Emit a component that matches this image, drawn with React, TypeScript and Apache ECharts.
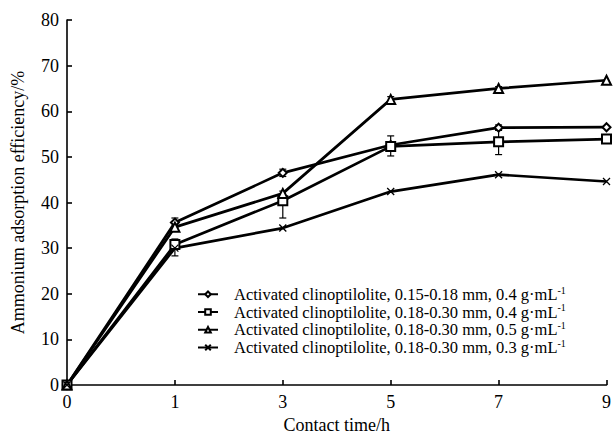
import React, { useEffect, useRef } from "react";
import * as echarts from "echarts";

const categories = ["0", "1", "3", "5", "7", "9"];
const seriesNames = [
  "Activated clinoptilolite, 0.15-0.18 mm, 0.4 g·mL",
  "Activated clinoptilolite, 0.18-0.30 mm, 0.4 g·mL",
  "Activated clinoptilolite, 0.18-0.30 mm, 0.5 g·mL",
  "Activated clinoptilolite, 0.18-0.30 mm, 0.3 g·mL",
];
const diamondValues = [0, 35.6, 46.5, 52.6, 56.4, 56.5];
const squareValues = [0, 30.8, 40.4, 52.3, 53.3, 53.9];
const triangleValues = [0, 34.6, 42.0, 62.6, 65.0, 66.8];
const crossValues = [0, 30.0, 34.4, 42.4, 46.1, 44.6];

// error bars: [category index, low, high]
const errorBars = [
  [1, 34.6, 36.6],
  [2, 45.7, 47.3],
  [3, 52.0, 53.2],
  [4, 55.8, 57.0],
  [1, 28.3, 32.0],
  [2, 36.6, 42.5],
  [3, 50.2, 54.6],
  [4, 50.5, 56.0],
  [3, 62.0, 63.2],
  [4, 64.6, 65.4],
];

const FONT = "'Liberation Serif', 'Times New Roman', serif";

export default function App() {
  const ref = useRef<HTMLDivElement>(null);
  useEffect(() => {
    if (!ref.current) return;
    const chart = echarts.init(ref.current, null, { renderer: "svg" });
    const lineStyle = { color: "#000", width: 2.7 };
    const mk = (name: string, data: number[], symbol: string, size: number) => ({
      name,
      type: "line",
      data,
      symbol,
      symbolSize: size,
      lineStyle,
      itemStyle: { color: "#000", borderColor: "#000", borderWidth: 1.3 },
      z: 3,
    });
    chart.setOption({
      animation: false,
      textStyle: { fontFamily: FONT },
      grid: { left: 67, right: 4, top: 20, bottom: 49, containLabel: false },
      legend: {
        orient: "vertical",
        left: 192,
        top: 280,
        itemWidth: 20,
        itemHeight: 7,
        itemGap: 0,
        data: seriesNames,
        formatter: (n: string) => `{t|${n}}{s|-1}`,
        textStyle: {
          color: "#000",
          fontFamily: FONT,
          fontSize: 16.5,
          padding: [0, 0, 0, 11],
          rich: {
            t: { fontSize: 16.5, fontFamily: FONT, color: "#000", lineHeight: 18.5 },
            s: { fontSize: 10, fontFamily: FONT, color: "#000", verticalAlign: "top", lineHeight: 18.5 },
          },
        },
      },
      xAxis: {
        type: "category",
        data: categories,
        boundaryGap: false,
        name: "Contact time/h",
        nameLocation: "middle",
        nameGap: 31,
        nameTextStyle: { color: "#000", fontSize: 18, fontFamily: FONT },
        axisLine: { lineStyle: { color: "#000", width: 1.6 } },
        axisTick: { inside: true, length: 5, lineStyle: { color: "#000", width: 1.6 } },
        axisLabel: { color: "#000", fontSize: 18, fontFamily: FONT, margin: 8 },
        splitLine: { show: false },
      },
      yAxis: {
        type: "value",
        min: 0,
        max: 80,
        interval: 10,
        name: "Ammonium adsorption efficiency/%",
        nameLocation: "middle",
        nameGap: 40,
        nameTextStyle: { color: "#000", fontSize: 18, fontFamily: FONT },
        axisLine: { show: true, lineStyle: { color: "#000", width: 1.6 } },
        axisTick: { show: true, inside: true, length: 5, lineStyle: { color: "#000", width: 1.6 } },
        axisLabel: { color: "#000", fontSize: 18, fontFamily: FONT, margin: 8 },
        splitLine: { show: false },
      },
      series: [
        mk(seriesNames[0], diamondValues, "emptyDiamond", 8),
        mk(seriesNames[1], squareValues, "emptyRect", 9),
        mk(seriesNames[2], triangleValues, "emptyTriangle", 9),
        mk(seriesNames[3], crossValues, "path://M0,0L10,10M10,0L0,10", 7),
        {
          type: "custom",
          name: "err",
          data: errorBars,
          z: 2,
          renderItem: (params: any, api: any) => {
            const x = api.value(0);
            const lo = api.coord([x, api.value(1)]);
            const hi = api.coord([x, api.value(2)]);
            const w = 3.5;
            const st = { stroke: "#000", lineWidth: 1.2 };
            return {
              type: "group",
              children: [
                { type: "line", shape: { x1: lo[0], y1: lo[1], x2: hi[0], y2: hi[1] }, style: st },
                { type: "line", shape: { x1: lo[0] - w, y1: lo[1], x2: lo[0] + w, y2: lo[1] }, style: st },
                { type: "line", shape: { x1: hi[0] - w, y1: hi[1], x2: hi[0] + w, y2: hi[1] }, style: st },
              ],
            };
          },
        },
      ],
    });
    return () => chart.dispose();
  }, []);
  return (
    <div
      ref={ref}
      style={{ position: "fixed", left: 0, top: 0, width: 614, height: 439, background: "#fff" }}
    />
  );
}
